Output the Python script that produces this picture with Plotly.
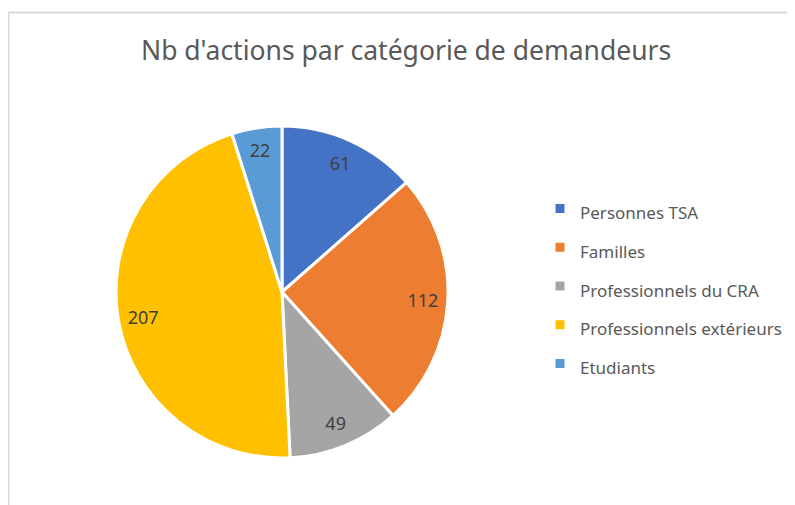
import plotly.graph_objects as go

categories = ["Personnes TSA", "Familles", "Professionnels du CRA", "Professionnels extérieurs", "Etudiants"]
values = [61, 112, 49, 207, 22]
colors = ["#4472C4", "#ED7D31", "#A5A5A5", "#FFC000", "#5B9BD5"]
title_text = "Nb d'actions par catégorie de demandeurs"

# page body has an 8px margin: figure covers the visible 787x497 area
OFF = 8
W, H = 795 - OFF, 505 - OFF
cx, cy, r = 282 - OFF, 292 - OFF, 166
dom_x = [(cx - r) / W, (cx + r) / W]
dom_y = [1 - (cy + r) / H, 1 - (cy - r) / H]

legend_labels = ['<span style="font-size:17px">%s</span>' % c for c in categories]

fig = go.Figure()
fig.add_trace(go.Pie(
    labels=legend_labels, values=values, sort=False, direction="clockwise", rotation=0,
    marker=dict(colors=colors, line=dict(color="white", width=3)),
    textinfo="none", domain=dict(x=dom_x, y=dom_y), hoverinfo="skip",
))
fig.add_trace(go.Pie(
    labels=legend_labels, values=values, sort=False, direction="clockwise", rotation=0,
    marker=dict(colors=["rgba(0,0,0,0)"] * len(values), line=dict(width=0)),
    hole=0.7, textinfo="value", textposition="inside", insidetextorientation="horizontal",
    textfont=dict(size=18, color="#404040", family="Noto Sans"),
    domain=dict(x=dom_x, y=dom_y), showlegend=False, hoverinfo="skip",
))

x_left = (8.5 - OFF) / W
y_top = 1 - (12.5 - OFF) / H
fig.update_layout(
    width=W, height=H, margin=dict(l=0, r=0, t=0, b=0),
    paper_bgcolor="white", plot_bgcolor="white",
    font=dict(family="Noto Sans", color="#595959"),
    showlegend=True,
    legend=dict(x=(540 - OFF) / W, xanchor="left", y=1 - (184 - OFF) / H, yanchor="top",
                font=dict(size=27.5, color="#595959", family="Noto Sans"),
                bgcolor="rgba(0,0,0,0)"),
    annotations=[dict(text=title_text, x=(406 - OFF) / W, y=1 - (50 - OFF) / H, xref="paper", yref="paper",
                      xanchor="center", yanchor="middle", showarrow=False,
                      font=dict(size=26.5, color="#595959", family="Noto Sans"))],
    shapes=[
        dict(type="line", xref="paper", yref="paper", x0=x_left, x1=1.02, y0=y_top, y1=y_top,
             line=dict(color="#D9D9D9", width=2)),
        dict(type="line", xref="paper", yref="paper", x0=x_left, x1=x_left, y0=-0.02, y1=y_top,
             line=dict(color="#D9D9D9", width=2)),
    ],
)

fig.write_html("out.html")
